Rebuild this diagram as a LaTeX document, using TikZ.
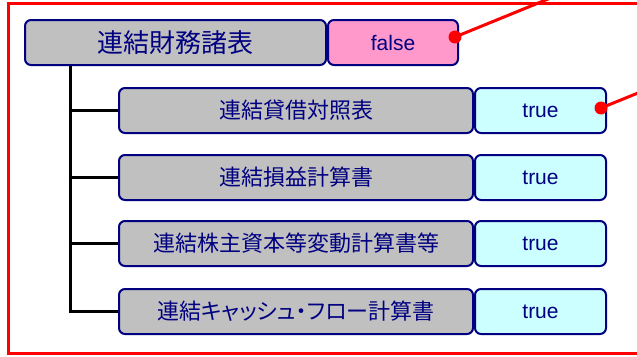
\documentclass[tikz,border=0pt]{standalone}
\usepackage{fontspec}
\setmainfont{Liberation Sans}
\newfontfamily\jp{Noto Sans CJK JP}
\newfontfamily\jpp[RawFeature=+palt]{Noto Sans CJK JP}
\definecolor{navy}{HTML}{000080}
\definecolor{boxgray}{HTML}{C0C0C0}
\definecolor{boxpink}{HTML}{FF99CC}
\definecolor{boxcyan}{HTML}{CCFFFF}
\tikzset{
  basebox/.style={draw=navy, line width=2pt, rounded corners=6pt, text=navy,
    inner sep=0pt, anchor=north west, minimum height=45pt},
  titlebox/.style={basebox, fill=boxgray, minimum width=301pt,
    font=\jp\fontsize{26}{30}\selectfont},
  namebox/.style={basebox, fill=boxgray, minimum width=354pt,
    font=\jp\fontsize{22}{26}\selectfont},
  falsebox/.style={basebox, fill=boxpink, minimum width=130pt,
    font=\fontsize{21}{24}\selectfont},
  truebox/.style={basebox, fill=boxcyan, minimum width=131pt,
    font=\fontsize{21}{24}\selectfont},
  tree/.style={draw=black, line width=3pt},
  callout/.style={draw=red, line width=3pt},
  dot/.style={circle, fill=red, inner sep=0pt, minimum size=13pt}
}
\begin{document}
\begin{tikzpicture}[x=1pt,y=-1pt]
\useasboundingbox (0,0) rectangle (637,356);
\clip (0,0) rectangle (637,356);
\fill[white] (0,0) rectangle (637,356);
\draw[red, line width=3pt] (8,3.5) rectangle (660,353.5);

\node[titlebox] (title) at (24,19) {連結財務諸表};
\node[falsebox] (fval) at (327,19) {false};

\node[namebox] (b1) at (118,87) {連結貸借対照表};
\node[truebox] (v1) at (474,87) {true};
\node[namebox] (b2) at (118,154) {連結損益計算書};
\node[truebox] (v2) at (474,154) {true};
\node[namebox] (b3) at (118,220) {連結株主資本等変動計算書等};
\node[truebox] (v3) at (474,220) {true};
\node[namebox] (b4) at (118,288) {\jpp 連結キャッシュ・フロー計算書};
\node[truebox] (v4) at (474,288) {true};

\coordinate (tx) at (70,0);
\draw[tree] (tx |- title.south) -- ([yshift=1.5pt]tx |- b4.west);
\draw[tree] ([xshift=-1.5pt]tx |- b1.west) -- (b1.west);
\draw[tree] ([xshift=-1.5pt]tx |- b2.west) -- (b2.west);
\draw[tree] ([xshift=-1.5pt]tx |- b3.west) -- (b3.west);
\draw[tree] ([xshift=-1.5pt]tx |- b4.west) -- (b4.west);

\node[dot] (d1) at (455,37) {};
\coordinate (e1) at (575,-12);
\draw[callout] (d1.center) -- (e1);
\node[dot] (d2) at (601,108) {};
\coordinate (e2) at (670,80);
\draw[callout] (d2.center) -- (e2);
\end{tikzpicture}
\end{document}
